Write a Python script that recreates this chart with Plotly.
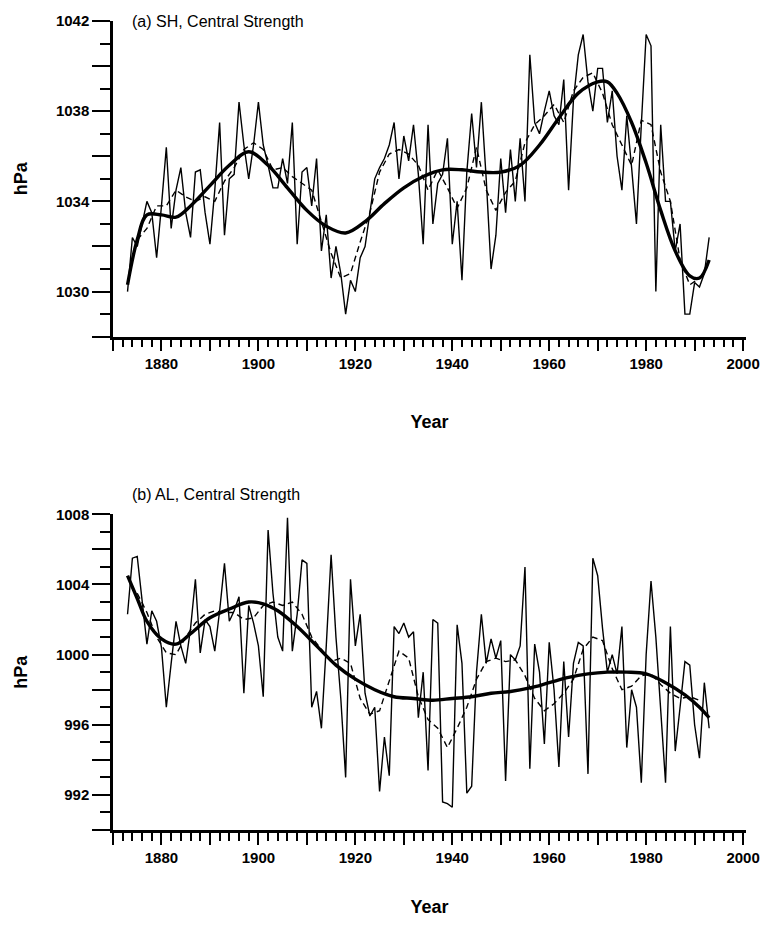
import plotly.graph_objects as go

# ---------------- data ----------------
years = list(range(1873, 1994))

sh_annual = [
    1030.0, 1032.4, 1032.0, 1033.0, 1034.0, 1033.5, 1031.5, 1033.8, 1036.4, 1032.8,  # 1873-1882
    1034.5, 1035.5, 1033.5, 1032.4, 1035.3, 1035.4, 1033.5, 1032.1, 1034.5, 1037.5,  # 1883-1892
    1032.5, 1035.0, 1035.2, 1038.4, 1036.5, 1035.0, 1036.5, 1038.4, 1036.5, 1035.6,  # 1893-1902
    1034.6, 1034.6, 1035.9, 1034.8, 1037.5, 1032.1, 1035.3, 1035.5, 1033.8, 1035.9,  # 1903-1912
    1031.8, 1033.4, 1030.6, 1032.0, 1030.8, 1029.0, 1030.5, 1030.0, 1031.5, 1032.0,  # 1913-1922
    1033.5, 1035.0, 1035.5, 1035.9, 1036.5, 1037.5, 1035.0, 1036.9, 1035.8, 1037.4,  # 1923-1932
    1035.2, 1032.1, 1037.4, 1033.0, 1034.8, 1035.2, 1036.8, 1032.1, 1034.0, 1030.5,  # 1933-1942
    1035.3, 1037.9, 1035.5, 1038.4, 1035.0, 1031.0, 1032.5, 1035.9, 1033.5, 1036.3,  # 1943-1952
    1034.0, 1036.8, 1034.0, 1040.5, 1037.5, 1037.0, 1038.0, 1038.9, 1037.8, 1037.4,  # 1953-1962
    1039.4, 1034.5, 1038.5, 1040.5, 1041.4, 1039.3, 1038.0, 1039.9, 1039.9, 1037.5,  # 1963-1972
    1038.9, 1036.0, 1034.5, 1037.8, 1035.5, 1033.0, 1037.4, 1041.4, 1040.9, 1030.0,  # 1973-1982
    1037.4, 1034.0, 1034.0, 1031.8, 1033.0, 1029.0, 1029.0, 1030.4, 1030.2, 1030.8,  # 1983-1992
    1032.4,                                                                          # 1993
]

al_annual = [
    1002.3, 1005.5, 1005.6, 1003.0, 1000.6, 1002.5, 1001.9, 1000.4, 997.0, 999.5,    # 1873-1882
    1001.9, 1000.5, 999.5, 1001.5, 1004.3, 1000.1, 1002.0, 1001.6, 1000.2, 1002.5,   # 1883-1892
    1005.2, 1001.9, 1002.5, 1003.3, 997.8, 1002.8, 1001.8, 1000.5, 997.6, 1007.1,    # 1893-1902
    1003.5, 1001.0, 1000.2, 1007.8, 1000.2, 1002.3, 1005.4, 1005.2, 997.0, 997.9,    # 1903-1912
    995.8, 1000.5, 1005.7, 1001.0, 997.5, 993.0, 1004.3, 1000.5, 1002.3, 997.8,      # 1913-1922
    996.5, 997.0, 992.2, 995.3, 993.1, 1001.6, 1001.2, 1001.8, 1001.0, 1001.3,       # 1923-1932
    996.4, 999.0, 993.4, 1002.0, 1001.8, 991.6, 991.5, 991.3, 1001.7, 999.5,         # 1933-1942
    992.1, 992.5, 999.0, 1002.3, 999.5, 1000.9, 999.8, 1000.8, 992.8, 1000.0,        # 1943-1952
    999.7, 1000.5, 1005.0, 993.5, 1000.6, 999.0, 994.9, 1000.7, 998.0, 993.6,        # 1953-1962
    999.6, 995.3, 999.5, 1000.7, 1000.5, 993.2, 1005.5, 1004.5, 1001.5, 999.0,       # 1963-1972
    1000.0, 998.9, 1001.6, 994.7, 998.0, 997.0, 992.7, 1000.0, 1004.2, 1001.0,       # 1973-1982
    997.0, 992.7, 1001.6, 994.5, 997.0, 999.6, 999.4, 996.0, 994.1, 998.4,           # 1983-1992
    995.8,                                                                           # 1993
]

# dashed (running-mean) curves, read every 2 years
dash_years = list(range(1875, 1992, 2))
sh_dashed = [
    1032.3, 1032.8, 1033.8, 1033.8, 1034.5, 1034.2, 1034.0, 1034.2, 1034.0, 1034.9,  # 1875-1893
    1035.5, 1036.3, 1036.6, 1036.3, 1035.4, 1035.5, 1035.1, 1034.8, 1034.5, 1033.1,  # 1895-1913
    1031.7, 1030.6, 1030.8, 1032.2, 1033.5, 1035.3, 1036.1, 1036.3, 1036.1, 1035.6,  # 1915-1933
    1034.5, 1035.4, 1034.6, 1033.7, 1034.6, 1036.4, 1034.5, 1033.6, 1034.4, 1034.9,  # 1935-1953
    1036.6, 1037.4, 1037.8, 1038.3, 1037.5, 1038.9, 1039.5, 1039.7, 1038.8, 1037.4,  # 1955-1973
    1036.5, 1035.6, 1037.6, 1037.4, 1035.3, 1034.0, 1031.4, 1030.3, 1030.6,          # 1975-1991
]
al_dashed = [
    1003.5, 1002.4, 1001.0, 1000.1, 1000.0, 1001.0, 1001.8, 1002.3, 1002.5, 1002.4,  # 1875-1893
    1002.4, 1002.0, 1002.1, 1002.8, 1003.0, 1002.8, 1003.0, 1002.3, 1001.0, 1000.3,  # 1895-1913
    999.6, 999.8, 999.5, 997.5, 996.6, 996.8, 998.5, 1000.2, 999.8, 997.6,           # 1915-1933
    996.3, 995.8, 994.7, 995.8, 997.0, 998.6, 999.6, 999.8, 999.6, 999.7,            # 1935-1953
    998.8, 997.5, 996.8, 997.2, 997.8, 998.6, 1000.3, 1001.0, 1000.8, 999.2,         # 1955-1973
    998.0, 998.2, 998.8, 998.9, 998.3, 997.8, 997.5, 997.6, 997.4,                   # 1975-1991
]

# thick (polynomial fit) curves
sh_fit_years = [1873, 1875, 1877, 1880, 1883, 1886, 1890, 1894, 1898, 1902, 1906, 1910,
                1914, 1918, 1922, 1926, 1930, 1934, 1938, 1942, 1946, 1950, 1954, 1958,
                1962, 1966, 1970, 1972, 1974, 1977, 1980, 1983, 1986, 1989, 1991, 1993]
sh_fit = [1030.3, 1032.3, 1033.4, 1033.4, 1033.3, 1033.8, 1034.7, 1035.6, 1036.2, 1035.6,
          1034.6, 1033.6, 1032.9, 1032.6, 1033.1, 1033.9, 1034.6, 1035.1, 1035.4, 1035.4,
          1035.3, 1035.3, 1035.6, 1036.5, 1037.7, 1038.8, 1039.3, 1039.3, 1038.8, 1037.5,
          1035.7, 1033.6, 1031.8, 1030.7, 1030.6, 1031.4]

al_fit_years = [1873, 1875, 1877, 1880, 1883, 1886, 1890, 1894, 1898, 1901, 1904, 1908,
                1912, 1916, 1920, 1924, 1928, 1932, 1936, 1940, 1944, 1948, 1952, 1956,
                1960, 1964, 1968, 1972, 1976, 1980, 1984, 1988, 1991, 1993]
al_fit = [1004.5, 1003.2, 1001.9, 1000.9, 1000.6, 1001.2, 1002.1, 1002.6, 1003.0, 1002.9,
          1002.5, 1001.6, 1000.5, 999.4, 998.6, 998.0, 997.6, 997.5, 997.4, 997.5,
          997.6, 997.8, 997.9, 998.1, 998.4, 998.7, 998.9, 999.0, 999.0, 998.9,
          998.4, 997.7, 997.0, 996.4]

# axis ticks and labels
x_major = list(range(1870, 2001, 10))
x_labels = ["" if v % 20 == 10 else str(v) for v in x_major]
sh_major = list(range(1028, 1043, 2))
sh_labels = [str(v) if v in (1030, 1034, 1038, 1042) else "" for v in sh_major]
al_major = list(range(990, 1009, 2))
al_labels = [str(v) if v in (992, 996, 1000, 1004, 1008) else "" for v in al_major]

titles = ["(a) SH, Central Strength", "(b) AL, Central Strength"]

# ---------------- figure ----------------
fig = go.Figure()
thin = dict(color="black", width=1.4)
dash = dict(color="black", width=1.4, dash="6px,4px")
thick = dict(color="black", width=3.4, shape="spline", smoothing=1.0)

fig.add_trace(go.Scatter(x=years, y=sh_annual, mode="lines", line=thin, xaxis="x", yaxis="y"))
fig.add_trace(go.Scatter(x=dash_years, y=sh_dashed, mode="lines", line=dash, xaxis="x", yaxis="y"))
fig.add_trace(go.Scatter(x=sh_fit_years, y=sh_fit, mode="lines", line=thick, xaxis="x", yaxis="y"))

fig.add_trace(go.Scatter(x=years, y=al_annual, mode="lines", line=thin, xaxis="x2", yaxis="y2"))
fig.add_trace(go.Scatter(x=dash_years, y=al_dashed, mode="lines", line=dash, xaxis="x2", yaxis="y2"))
fig.add_trace(go.Scatter(x=al_fit_years, y=al_fit, mode="lines", line=thick, xaxis="x2", yaxis="y2"))

tickfont = dict(family="Liberation Sans, Arial, sans-serif", size=15, color="black", weight="bold")
titlefont = dict(family="Liberation Sans, Arial, sans-serif", size=18, color="black", weight="bold")

def xaxis_cfg(anchor, standoff):
    return dict(
        anchor=anchor, domain=[0, 1], range=[1870, 2000.6],
        showline=True, linecolor="black", linewidth=2.5,
        showgrid=False, zeroline=False,
        tickmode="array", tickvals=x_major, ticktext=x_labels,
        ticks="outside", ticklen=12, tickwidth=2, tickcolor="black",
        minor=dict(ticks="outside", tickmode="linear", tick0=1870, dtick=2,
                   ticklen=8, tickwidth=1.5, tickcolor="black", showgrid=False),
        tickfont=tickfont,
        title=dict(text="Year", font=titlefont, standoff=standoff),
    )

def yaxis_cfg(anchor, domain, rng, vals, labels):
    return dict(
        anchor=anchor, domain=domain, range=rng,
        showline=True, linecolor="black", linewidth=2.5,
        showgrid=False, zeroline=False,
        tickmode="array", tickvals=vals, ticktext=labels,
        ticks="outside", ticklen=18, tickwidth=2, tickcolor="black",
        minor=dict(ticks="outside", tickmode="linear", tick0=rng[0], dtick=1,
                   ticklen=10, tickwidth=1.5, tickcolor="black", showgrid=False),
        tickfont=tickfont,
        title=dict(text="hPa", font=titlefont, standoff=24),
    )

fig.update_layout(
    width=772, height=941,
    margin=dict(l=113, r=20, t=15, b=111),
    paper_bgcolor="white", plot_bgcolor="white",
    showlegend=False,
    xaxis=xaxis_cfg("y", 44),
    yaxis=yaxis_cfg("x", [0.6098, 1.0], [1028, 1042], sh_major, sh_labels),
    xaxis2=xaxis_cfg("y2", 36),
    yaxis2=yaxis_cfg("x2", [0.0, 0.3902], [990, 1008], al_major, al_labels),
    annotations=[
        dict(text=titles[0], x=0.027, y=1.0, xref="paper", yref="paper",
             xanchor="left", yanchor="middle", showarrow=False,
             font=dict(family="Liberation Sans, Arial, sans-serif", size=16, color="black")),
        dict(text=titles[1], x=0.027, y=0.3902 + 20 / 815, xref="paper", yref="paper",
             xanchor="left", yanchor="middle", showarrow=False,
             font=dict(family="Liberation Sans, Arial, sans-serif", size=16, color="black")),
    ],
)

fig.write_html("out.html")
